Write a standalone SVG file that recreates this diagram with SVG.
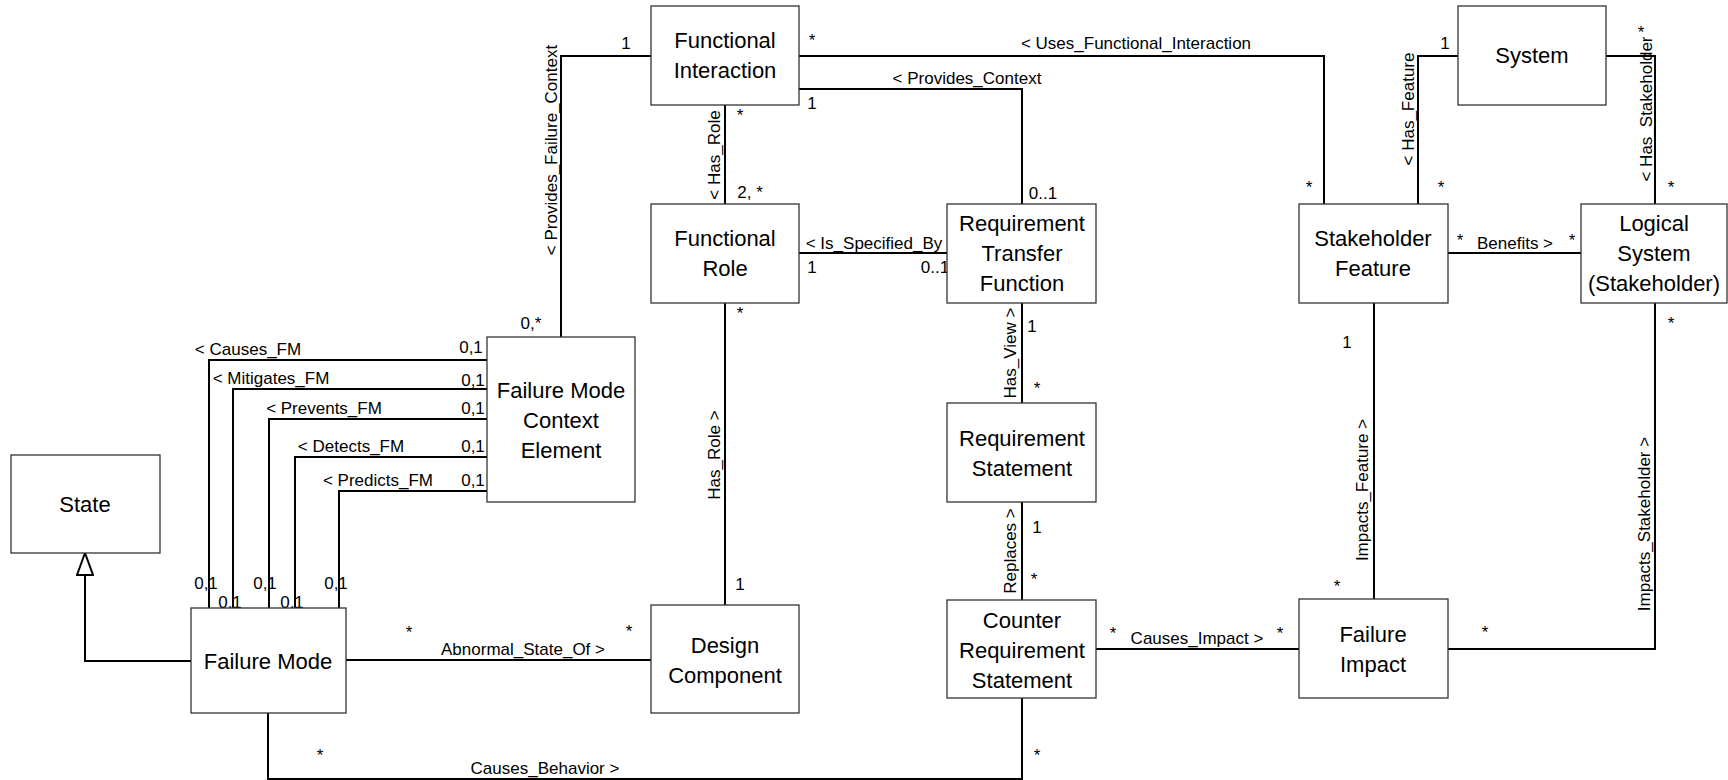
<svg xmlns="http://www.w3.org/2000/svg" width="1728" height="780" viewBox="0 0 1728 780">
<style>
.box{fill:#fff;stroke:#333;stroke-width:1.3}
.nt{font-family:"Liberation Sans",Arial,sans-serif;font-size:22px;fill:#000;text-anchor:middle;dominant-baseline:central}
.el{font-family:"Liberation Sans",Arial,sans-serif;font-size:17px;fill:#000;text-anchor:middle;dominant-baseline:central}
.ln{fill:none;stroke:#000;stroke-width:2}
</style>
<defs>
<marker id="gen" viewBox="0 0 24 18" refX="23" refY="9" markerWidth="24" markerHeight="18" markerUnits="userSpaceOnUse" orient="auto">
<path d="M1,1 L23,9 L1,17 Z" fill="#fff" stroke="#000" stroke-width="2"/>
</marker>
</defs>
<rect width="1728" height="780" fill="#fff"/>
<g id="connectors">
<polyline class="ln" points="561,337 561,56 651,56"/>
<polyline class="ln" points="799,56 1324,56 1324,204"/>
<polyline class="ln" points="799,89 1022,89 1022,204"/>
<polyline class="ln" points="725,105 725,204"/>
<polyline class="ln" points="799,253 947,253"/>
<polyline class="ln" points="725,303 725,605"/>
<polyline class="ln" points="1022,303 1022,403"/>
<polyline class="ln" points="1022,502 1022,600"/>
<polyline class="ln" points="1096,649 1299,649"/>
<polyline class="ln" points="268,713 268,779 1022,779 1022,698"/>
<polyline class="ln" points="346,660 651,660"/>
<polyline class="ln" points="191,661 85,661 85,553" marker-end="url(#gen)"/>
<polyline class="ln" points="1458,56 1418,56 1418,204"/>
<polyline class="ln" points="1606,56 1655,56 1655,204"/>
<polyline class="ln" points="1448,253 1581,253"/>
<polyline class="ln" points="1374,303 1374,599"/>
<polyline class="ln" points="1448,649 1655,649 1655,303"/>
<polyline class="ln" points="487,360 209,360 209,608"/>
<polyline class="ln" points="487,389 233,389 233,608"/>
<polyline class="ln" points="487,419 269,419 269,608"/>
<polyline class="ln" points="487,457 295,457 295,608"/>
<polyline class="ln" points="487,491 339,491 339,608"/>
</g>
<g id="connector-labels">
<text class="el" transform="translate(551,150) rotate(-90)">&lt; Provides_Failure_Context</text>
<text class="el" x="626" y="43">1</text>
<text class="el" x="531" y="323">0,*</text>
<text class="el" x="1136" y="43">&lt; Uses_Functional_Interaction</text>
<text class="el" x="812" y="40">*</text>
<text class="el" x="1309" y="187">*</text>
<text class="el" x="967" y="78">&lt; Provides_Context</text>
<text class="el" x="812" y="103">1</text>
<text class="el" x="1043" y="193">0..1</text>
<text class="el" transform="translate(714,155) rotate(-90)">&lt; Has_Role</text>
<text class="el" x="740" y="115">*</text>
<text class="el" x="750" y="192">2, *</text>
<text class="el" x="874" y="243">&lt; Is_Specified_By</text>
<text class="el" x="812" y="267">1</text>
<text class="el" x="935" y="267">0..1</text>
<text class="el" x="740" y="313">*</text>
<text class="el" transform="translate(714,455) rotate(-90)">Has_Role &gt;</text>
<text class="el" x="740" y="584">1</text>
<text class="el" transform="translate(1010,353) rotate(-90)">Has_View &gt;</text>
<text class="el" x="1032" y="326">1</text>
<text class="el" x="1037" y="388">*</text>
<text class="el" transform="translate(1010,551) rotate(-90)">Replaces &gt;</text>
<text class="el" x="1037" y="527">1</text>
<text class="el" x="1034" y="579">*</text>
<text class="el" x="1197" y="638">Causes_Impact &gt;</text>
<text class="el" x="1113" y="633">*</text>
<text class="el" x="1280" y="633">*</text>
<text class="el" x="545" y="768">Causes_Behavior &gt;</text>
<text class="el" x="320" y="755">*</text>
<text class="el" x="1037" y="755">*</text>
<text class="el" x="523" y="649">Abnormal_State_Of &gt;</text>
<text class="el" x="409" y="632">*</text>
<text class="el" x="629" y="631">*</text>
<text class="el" transform="translate(1408,109) rotate(-90)">&lt; Has_Feature</text>
<text class="el" x="1445" y="43">1</text>
<text class="el" x="1441" y="187">*</text>
<text class="el" transform="translate(1646,109) rotate(-90)">&lt; Has_Stakeholder</text>
<text class="el" x="1641" y="32">*</text>
<text class="el" x="1671" y="187">*</text>
<text class="el" x="1460" y="240">*</text>
<text class="el" x="1515" y="243">Benefits &gt;</text>
<text class="el" x="1572" y="240">*</text>
<text class="el" x="1347" y="342">1</text>
<text class="el" transform="translate(1362,490) rotate(-90)">Impacts_Feature &gt;</text>
<text class="el" x="1337" y="586">*</text>
<text class="el" x="1485" y="632">*</text>
<text class="el" transform="translate(1644,524) rotate(-90)">Impacts_Stakeholder &gt;</text>
<text class="el" x="1671" y="323">*</text>
<text class="el" x="248" y="349">&lt; Causes_FM</text>
<text class="el" x="271" y="378">&lt; Mitigates_FM</text>
<text class="el" x="324" y="408">&lt; Prevents_FM</text>
<text class="el" x="351" y="446">&lt; Detects_FM</text>
<text class="el" x="378" y="480">&lt; Predicts_FM</text>
<text class="el" x="471" y="347">0,1</text>
<text class="el" x="473" y="380">0,1</text>
<text class="el" x="473" y="408">0,1</text>
<text class="el" x="473" y="446">0,1</text>
<text class="el" x="473" y="480">0,1</text>
<text class="el" x="206" y="583">0,1</text>
<text class="el" x="230" y="602">0,1</text>
<text class="el" x="265" y="583">0,1</text>
<text class="el" x="292" y="602">0,1</text>
<text class="el" x="336" y="583">0,1</text>
</g>
<g id="functional-interaction"><rect class="box" x="651" y="6" width="148" height="99"/><text class="nt" x="725" y="40">Functional</text><text class="nt" x="725" y="70">Interaction</text></g>
<g id="functional-role"><rect class="box" x="651" y="204" width="148" height="99"/><text class="nt" x="725" y="238">Functional</text><text class="nt" x="725" y="268">Role</text></g>
<g id="requirement-transfer-function"><rect class="box" x="947" y="204" width="149" height="99"/><text class="nt" x="1022" y="223">Requirement</text><text class="nt" x="1022" y="253">Transfer</text><text class="nt" x="1022" y="283">Function</text></g>
<g id="requirement-statement"><rect class="box" x="947" y="403" width="149" height="99"/><text class="nt" x="1022" y="438">Requirement</text><text class="nt" x="1022" y="468">Statement</text></g>
<g id="counter-requirement-statement"><rect class="box" x="947" y="600" width="149" height="98"/><text class="nt" x="1022" y="620">Counter</text><text class="nt" x="1022" y="650">Requirement</text><text class="nt" x="1022" y="680">Statement</text></g>
<g id="stakeholder-feature"><rect class="box" x="1299" y="204" width="149" height="99"/><text class="nt" x="1373" y="238">Stakeholder</text><text class="nt" x="1373" y="268">Feature</text></g>
<g id="system"><rect class="box" x="1458" y="6" width="148" height="99"/><text class="nt" x="1532" y="55">System</text></g>
<g id="logical-system"><rect class="box" x="1581" y="204" width="146" height="99"/><text class="nt" x="1654" y="223">Logical</text><text class="nt" x="1654" y="253">System</text><text class="nt" x="1654" y="283">(Stakeholder)</text></g>
<g id="failure-impact"><rect class="box" x="1299" y="599" width="149" height="99"/><text class="nt" x="1373" y="634">Failure</text><text class="nt" x="1373" y="664">Impact</text></g>
<g id="failure-mode-context-element"><rect class="box" x="487" y="337" width="148" height="165"/><text class="nt" x="561" y="390">Failure Mode</text><text class="nt" x="561" y="420">Context</text><text class="nt" x="561" y="450">Element</text></g>
<g id="failure-mode"><rect class="box" x="191" y="608" width="155" height="105"/><text class="nt" x="268" y="661">Failure Mode</text></g>
<g id="state"><rect class="box" x="11" y="455" width="149" height="98"/><text class="nt" x="85" y="504">State</text></g>
<g id="design-component"><rect class="box" x="651" y="605" width="148" height="108"/><text class="nt" x="725" y="645">Design</text><text class="nt" x="725" y="675">Component</text></g>
</svg>
